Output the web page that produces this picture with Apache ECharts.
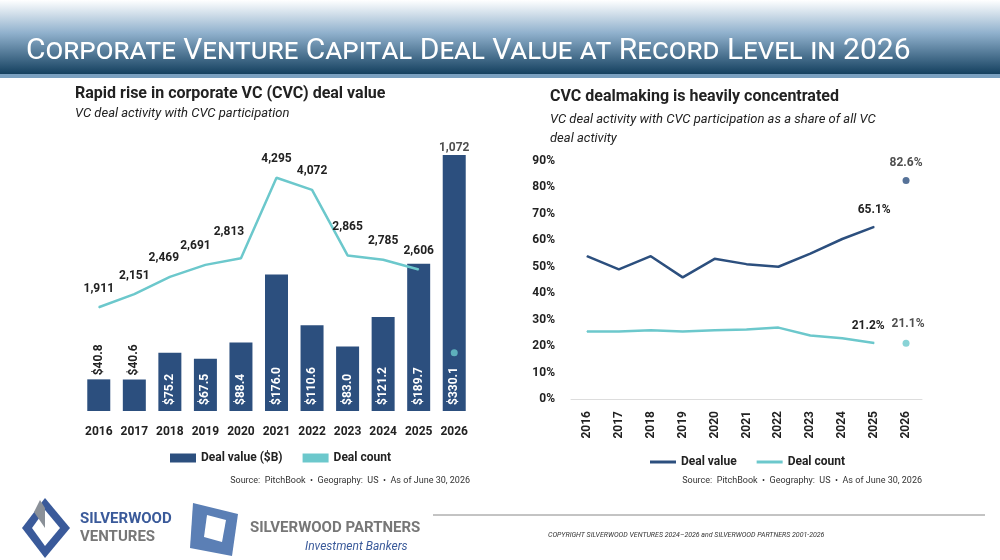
<!DOCTYPE html>
<html><head><meta charset="utf-8">
<script src="https://cdn.jsdelivr.net/npm/echarts@6/dist/echarts.min.js"></script>
<style>body{margin:0;background:#fff}#c{width:1000px;height:560px}</style>
</head><body><div id="c"></div>
<script>
const years = ['2016','2017','2018','2019','2020','2021','2022','2023','2024','2025','2026'];
const dealValue = [40.8,40.6,75.2,67.5,88.4,176.0,110.6,83.0,121.2,189.7,330.1];
const dealCount = [1911,2151,2469,2691,2813,4295,4072,2865,2785,2606,null];
const dealCount2026 = 1072;
const shareValue = [54,49,54,46,53,51,50,55,60.5,65.1,null];
const shareCount = [25.5,25.5,26,25.5,26,26.3,27,24,23,21.2,null];
const shareValue2026 = 82.6;
const shareCount2026 = 21.1;

const DARK='#2c4f7e', TEAL='#6cc8cc', F='Roboto, sans-serif';
const chart = echarts.init(document.getElementById('c'));
const txt = (x,y,t,s)=>({type:'text',left:x,top:y,style:Object.assign({text:t,fill:'#222',font:'13px Roboto'},s)});
const lbl = (extra)=>Object.assign({show:true,position:'top',color:'#222',fontFamily:F,fontSize:12,fontWeight:'bold'},extra);
const countOffsets = [[0,-4],[0,-4],[-6,-4],[-10,-4],[-12,-12],[0,-4],[0,-4],[0,-14],[0,-4],[0,-4]];
chart.setOption({
  animation:false,
  graphic:[
    {type:'rect',shape:{x:0,y:0,width:1000,height:74},style:{fill:new echarts.graphic.LinearGradient(0,0,0,1,[{offset:0,color:'#ffffff'},{offset:0.45,color:'#8fb0cc'},{offset:1,color:'#14405f'}])}},
    {type:'rect',shape:{x:0,y:74,width:1000,height:4},style:{fill:'#7aa0c0'}},
    txt(26,36,'Corporate Venture Capital Deal Value at Record Level in 2026',{fill:'#fff',font:'small-caps 30px Roboto, sans-serif'}),
    txt(75,86,'Rapid rise in corporate VC (CVC) deal value',{font:'bold 16px Roboto'}),
    txt(75,107,'VC deal activity with CVC participation',{font:'italic 13px Roboto'}),
    txt(550,89,'CVC dealmaking is heavily concentrated',{font:'bold 16px Roboto'}),
    txt(550,110,'VC deal activity with CVC participation as a share of all VC\ndeal activity',{font:'italic 13px Roboto',lineHeight:19}),
    {type:'text',right:530,top:476,style:{text:'Source:  PitchBook  •  Geography:  US  •  As of June 30, 2026',font:'9px Roboto',fill:'#333'}},
    {type:'text',right:78,top:476,style:{text:'Source:  PitchBook  •  Geography:  US  •  As of June 30, 2026',font:'9px Roboto',fill:'#333'}},
    {type:'line',shape:{x1:433,y1:515,x2:985,y2:515},style:{stroke:'#888',lineWidth:1}},
    txt(548,532,'COPYRIGHT SILVERWOOD VENTURES 2024–2026 and SILVERWOOD PARTNERS 2001-2026',{font:'italic 7px Roboto',fill:'#333'}),
    {type:'polygon',shape:{points:[[45,498],[70,528],[45,558],[22,528]]},style:{fill:'#3a5a9a'}},
    {type:'polygon',shape:{points:[[45,510],[60,528],[45,546],[32,528]]},style:{fill:'#fff'}},
    {type:'polygon',shape:{points:[[40,500],[34,512],[45,528],[45,508]]},style:{fill:'#8a9098'}},
    txt(80,512,'SILVERWOOD',{font:'bold 15px Roboto',fill:'#3a5a9a'}),
    txt(80,530,'VENTURES',{font:'bold 15px Roboto',fill:'#777'}),
    {type:'polygon',shape:{points:[[193,503],[238,514],[232,556],[190,548]]},style:{fill:'#5b7fb5'}},
    {type:'polygon',shape:{points:[[207,515],[226,520],[222,542],[204,537]]},style:{fill:'#fff'}},
    txt(250,521,'SILVERWOOD PARTNERS',{font:'bold 15px Roboto',fill:'#777'}),
    txt(305,541,'Investment Bankers',{font:'italic 12px Roboto',fill:'#3a5a9a'})
  ],
  legend:[
    {left:165,top:447,itemWidth:26,itemHeight:9,itemGap:20,textStyle:{fontFamily:F,fontSize:12,fontWeight:'bold',color:'#222'},data:[{name:'Deal value ($B)',icon:'rect'},{name:'Deal count',icon:'rect'}]},
    {left:645,top:451,itemWidth:26,itemHeight:3,itemGap:20,textStyle:{fontFamily:F,fontSize:12,fontWeight:'bold',color:'#222'},data:[{name:'Deal value',icon:'rect'},{name:'Deal count ',icon:'rect'}]}
  ],
  grid:[{left:81,top:139.5,width:391,height:271.5},{left:571,top:161,width:351,height:238}],
  xAxis:[
    {gridIndex:0,type:'category',data:years,axisLine:{show:false},axisTick:{show:false},axisLabel:{interval:0,margin:15,fontFamily:F,fontSize:12,fontWeight:'bold',color:'#222'}},
    {gridIndex:1,type:'category',data:years,axisLine:{lineStyle:{color:'#ddd'}},axisTick:{show:false},axisLabel:{interval:0,rotate:90,margin:12,fontFamily:F,fontSize:12,fontWeight:'bold',color:'#222'}}
  ],
  yAxis:[
    {gridIndex:0,min:0,max:350,show:false},
    {gridIndex:0,min:0,max:5000,show:false},
    {gridIndex:1,min:0,max:90,interval:10,splitLine:{show:false},axisLine:{show:false},axisLabel:{fontFamily:F,fontSize:12,fontWeight:'bold',color:'#222',margin:16,formatter:v=>v+'%'}}
  ],
  series:[
    {name:'Deal value ($B)',type:'bar',xAxisIndex:0,yAxisIndex:0,barWidth:23,itemStyle:{color:DARK},
     data:dealValue.map((v,i)=>({value:v,label:i<2?{position:'top',color:'#222',distance:4}:{}})),
     label:{show:true,rotate:90,position:'insideBottom',align:'left',verticalAlign:'middle',distance:6,color:'#fff',fontFamily:F,fontSize:12,fontWeight:'bold',formatter:p=>'$'+p.value.toFixed(1)}},
    {name:'Deal count',type:'line',xAxisIndex:0,yAxisIndex:1,symbol:'circle',symbolSize:1,showSymbol:true,lineStyle:{color:TEAL,width:2.5},itemStyle:{color:TEAL},
     data:dealCount.map((v,i)=>({value:v,label:{offset:countOffsets[i]||[0,0]}})),
     label:lbl({distance:8,formatter:p=>p.value.toLocaleString('en-US')})},
    {name:'Deal count',type:'scatter',xAxisIndex:0,yAxisIndex:1,symbolSize:7,itemStyle:{color:TEAL},
     data:years.map((y,i)=>i===10?dealCount2026:null),
     label:lbl({offset:[0,-190],formatter:p=>p.value.toLocaleString('en-US')})},
    {name:'Deal value',type:'line',xAxisIndex:1,yAxisIndex:2,data:shareValue,symbol:'circle',symbolSize:1,showSymbol:true,lineStyle:{color:DARK,width:2.5},itemStyle:{color:DARK},
     label:lbl({distance:10,formatter:p=>p.dataIndex===9?p.value.toFixed(1)+'%':''})},
    {name:'Deal count ',type:'line',xAxisIndex:1,yAxisIndex:2,data:shareCount,symbol:'circle',symbolSize:1,showSymbol:true,lineStyle:{color:TEAL,width:2.5},itemStyle:{color:TEAL},
     label:lbl({distance:10,offset:[-6,0],formatter:p=>p.dataIndex===9?p.value.toFixed(1)+'%':''})},
    {type:'scatter',xAxisIndex:1,yAxisIndex:2,symbolSize:7,itemStyle:{color:DARK},data:years.map((y,i)=>i===10?shareValue2026:null),
     label:lbl({distance:8,formatter:p=>p.value.toFixed(1)+'%'})},
    {type:'scatter',xAxisIndex:1,yAxisIndex:2,symbolSize:7,itemStyle:{color:TEAL},data:years.map((y,i)=>i===10?shareCount2026:null),
     label:lbl({distance:10,offset:[2,0],formatter:p=>p.value.toFixed(1)+'%'})}
  ]
});
</script></body></html>
